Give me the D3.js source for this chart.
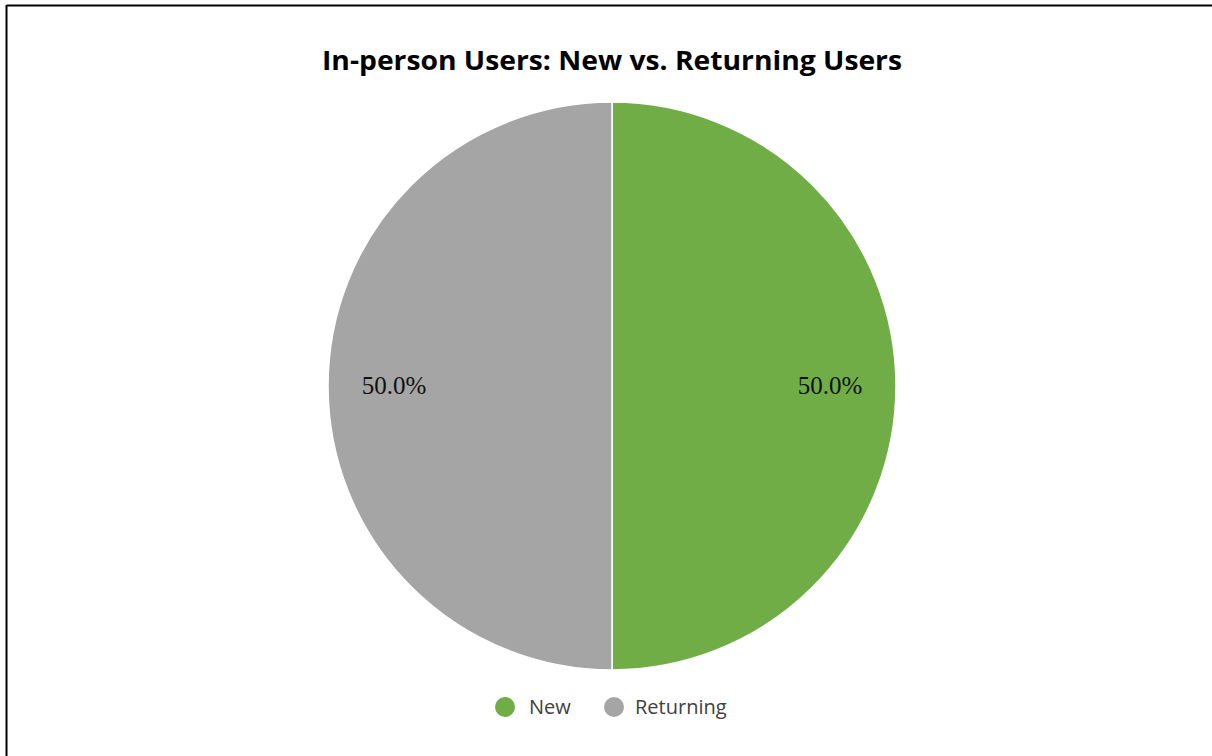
<!DOCTYPE html>
<html>
<head>
<meta charset="utf-8">
<script src="https://cdn.jsdelivr.net/npm/d3@7"></script>
<style>
  html, body { margin: 0; padding: 0; background: #fff; }
  svg { display: block; }
</style>
</head>
<body>
<svg id="chart" width="1212" height="756"></svg>
<script>
// Chart data
const categories = ["New", "Returning"];
const values = [50, 50];
const colors = ["#70AD47", "#A5A5A5"];
const titleText = "In-person Users: New vs. Returning Users";

const W = 1212, H = 756;
const svg = d3.select("#chart");

// Frame edges (top and left)
svg.append("line").attr("x1", 6.5).attr("y1", 5.5).attr("x2", W).attr("y2", 5.5)
  .attr("stroke", "#000").attr("stroke-width", 2);
svg.append("line").attr("x1", 6.5).attr("y1", 5).attr("x2", 6.5).attr("y2", H)
  .attr("stroke", "#000").attr("stroke-width", 2);

// Title
const title = svg.append("text")
  .attr("x", 612).attr("y", 70)
  .attr("text-anchor", "middle")
  .attr("font-family", "'Open Sans', sans-serif")
  .attr("font-weight", 700)
  .attr("font-size", 27)
  .attr("fill", "#000")
  .text(titleText);
const tw = title.node().getComputedTextLength();
if (tw > 0) title.attr("textLength", 580).attr("lengthAdjust", "spacingAndGlyphs");

// Pie
const cx = 612, cy = 386, r = 284;
const pie = d3.pie().sort(null).value(d => d.value);
const data = categories.map((c, i) => ({ name: c, value: values[i], color: colors[i] }));
const arcs = pie(data);
const arc = d3.arc().innerRadius(0).outerRadius(r);
const labelArc = d3.arc().innerRadius(218).outerRadius(218);
const total = d3.sum(values);

const g = svg.append("g").attr("transform", `translate(${cx},${cy})`);
g.selectAll("path.slice").data(arcs).join("path")
  .attr("class", "slice")
  .attr("d", arc)
  .attr("fill", d => d.data.color)
  .attr("stroke", "#fff")
  .attr("stroke-width", 1.5);

g.selectAll("text.lbl").data(arcs).join("text")
  .attr("class", "lbl")
  .attr("transform", d => `translate(${labelArc.centroid(d)})`)
  .attr("text-anchor", "middle")
  .attr("dy", "0.32em")
  .attr("font-family", "'Liberation Serif', 'DejaVu Serif', serif")
  .attr("font-size", 25)
  .style("font-variant-numeric", "oldstyle-nums")
  .attr("fill", "#111")
  .text(d => d3.format(".1%")(d.data.value / total));

// Legend
const legendItems = [
  { x: 505, tx: 529 },
  { x: 614, tx: 635 }
];
const legend = svg.append("g");
data.forEach((d, i) => {
  legend.append("circle").attr("cx", legendItems[i].x).attr("cy", 707).attr("r", 10)
    .attr("fill", d.color);
  legend.append("text").attr("x", legendItems[i].tx).attr("y", 707)
    .attr("dy", "0.35em")
    .attr("font-family", "'Open Sans', sans-serif")
    .attr("font-size", 20)
    .attr("fill", "#404040")
    .text(d.name);
});
</script>
</body>
</html>
